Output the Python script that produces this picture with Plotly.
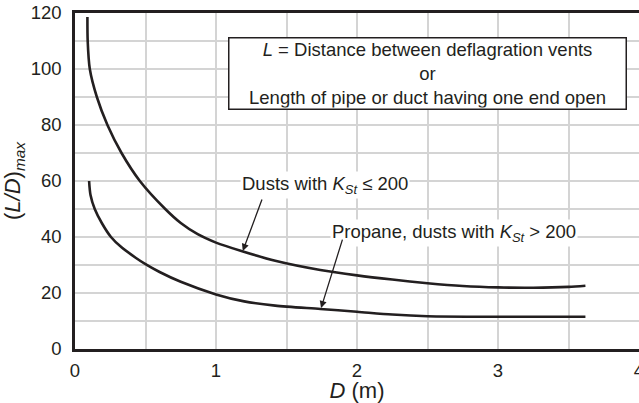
import plotly.graph_objects as go

# Dusts with K_St <= 200
dust_d = [0.088, 0.09, 0.105, 0.155, 0.23, 0.33, 0.46, 0.64, 0.75, 0.87, 1.0, 1.18, 1.42,
          1.74, 2.0, 2.25, 2.5, 2.75, 3.0, 3.25, 3.5, 3.62]
dust_ld = [118.6, 110, 100, 90, 80, 70, 60, 50, 45, 41, 38, 35, 31.5,
           28.2, 26.3, 24.8, 23.5, 22.5, 22, 21.9, 22.2, 22.6]

# Propane, dusts with K_St > 200
prop_d = [0.10, 0.11, 0.14, 0.19, 0.255, 0.33, 0.43, 0.50, 0.60, 0.75, 1.0,
          1.2, 1.42, 1.74, 2.0, 2.25, 2.5, 3.0, 3.62]
prop_ld = [60, 55, 50, 45, 40, 36.3, 32.6, 30.3, 27.5, 24, 19.5,
           17.0, 15.5, 14.3, 13.3, 12.3, 11.7, 11.5, 11.5]

FONT = 'Liberation Sans, Arial, Helvetica, sans-serif'
INK = '#231f20'
GRID = '#d4d4d4'

fig = go.Figure()

for xs, ys in [(dust_d, dust_ld), (prop_d, prop_ld)]:
    fig.add_trace(go.Scatter(
        x=xs, y=ys,
        mode='lines',
        line=dict(color=INK, width=2.6, shape='spline', smoothing=0.8),
        showlegend=False,
        hoverinfo='skip'
    ))

# definition box
fig.add_annotation(
    x=2.5, y=98.5, xref='x', yref='y',
    text='<i>L</i> = Distance between deflagration vents<br>or<br>Length of pipe or duct having one end open',
    showarrow=False,
    font=dict(family=FONT, size=18.5, color=INK),
    bgcolor='white', bordercolor=INK, borderwidth=1.5, borderpad=1,
    width=394, height=68, align='center'
)

# curve labels
fig.add_annotation(
    x=1.77, y=58.6, xref='x', yref='y',
    text='Dusts with <i>K<sub>St</sub></i> \u2264 200',
    showarrow=False, bgcolor='white',
    font=dict(family=FONT, size=18.5, color=INK)
)
fig.add_annotation(
    x=2.69, y=41.4, xref='x', yref='y',
    text='Propane, dusts with <i>K<sub>St</sub></i> > 200',
    showarrow=False, bgcolor='white',
    font=dict(family=FONT, size=18.5, color=INK)
)

# arrows
for head, tail in [((1.19, 35.0), (1.33, 53.9)), ((1.745, 14.6), (1.90, 39.6))]:
    fig.add_annotation(
        x=head[0], y=head[1], ax=tail[0], ay=tail[1],
        xref='x', yref='y', axref='x', ayref='y',
        text='', showarrow=True,
        arrowhead=2, arrowsize=1.1, arrowwidth=1.3, arrowcolor=INK
    )

fig.update_layout(
    width=639, height=403,
    margin=dict(l=75, r=0, t=13, b=54),
    plot_bgcolor='white', paper_bgcolor='white',
    font=dict(family=FONT, size=18.5, color=INK)
)

fig.update_xaxes(
    range=[0, 4], dtick=1, tick0=0,
    showgrid=True, gridcolor=GRID, gridwidth=1.5,
    minor=dict(dtick=0.5, showgrid=True, gridcolor=GRID, gridwidth=1.5),
    showline=True, linecolor=INK, linewidth=2.5, mirror=True,
    ticks='outside', ticklen=3, tickcolor='rgba(0,0,0,0)',
    ticklabeloverflow='allow', automargin=False,
    zeroline=False,
    title=dict(text='<i>D</i> (m)', standoff=4)
)
fig.update_yaxes(
    range=[0, 120], dtick=20, tick0=0,
    showgrid=True, gridcolor=GRID, gridwidth=1.5,
    minor=dict(dtick=10, showgrid=True, gridcolor=GRID, gridwidth=1.5),
    showline=True, linecolor=INK, linewidth=2.5,
    ticks='outside', ticklen=7, tickcolor='rgba(0,0,0,0)',
    automargin=False,
    zeroline=False,
    title=dict(text='(<i>L/D</i>)<sub><i>max</i></sub>', standoff=6)
)

# drop the page's default body margin so the figure sits at the top-left corner
fig.write_html('out.html', config={'displayModeBar': False},
               post_script="document.body.style.margin='0';")
